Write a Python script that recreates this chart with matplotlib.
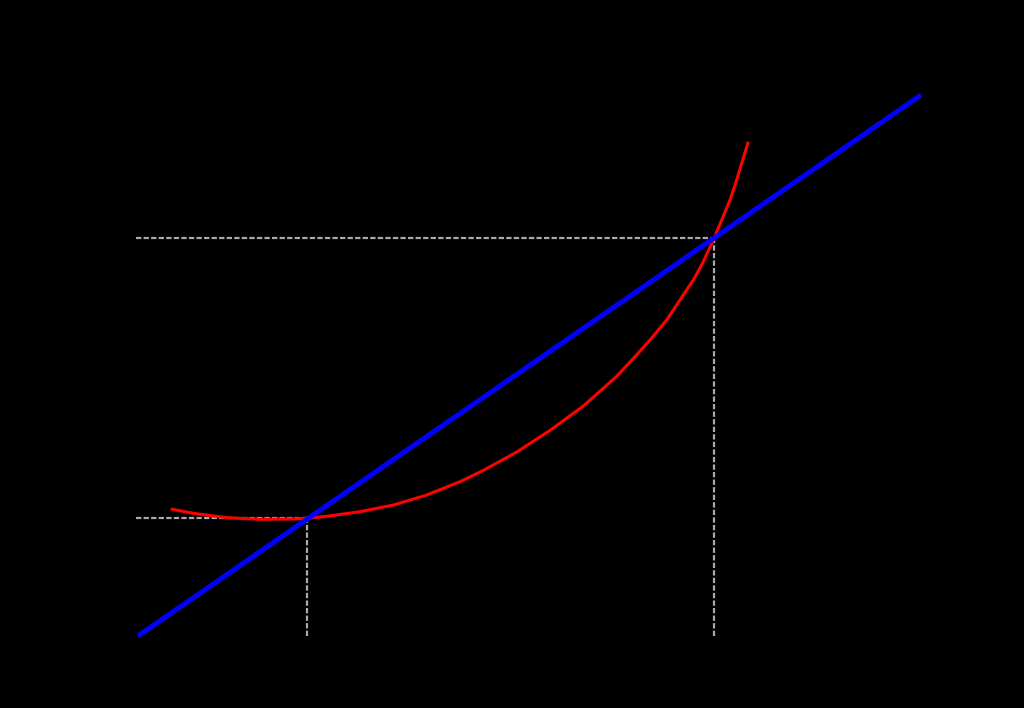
import numpy as np
import matplotlib
matplotlib.use("Agg")
import matplotlib.pyplot as plt

# red curve
curve_x = [0.418, 0.706, 1.133, 1.558, 1.983, 2.155, 2.410, 2.835, 3.261, 3.687,
           4.112, 4.410, 4.837, 5.262, 5.687, 6.114, 6.347, 6.539, 6.752, 6.922,
           7.092, 7.210, 7.347, 7.455, 7.561, 7.646, 7.723, 7.794]
curve_y = [2.348, 2.268, 2.187, 2.157, 2.163, 2.176, 2.212, 2.298, 2.421, 2.606,
           2.852, 3.061, 3.400, 3.800, 4.250, 4.800, 5.163, 5.471, 5.841, 6.211,
           6.580, 6.889, 7.320, 7.689, 8.059, 8.429, 8.799, 9.137]

# blue line y = x
line_x = [0.0, 10.0]
line_y = [0.0, 10.0]

# the two fixed points where the curve meets the line
fixed_x = [2.16, 7.36]
fixed_y = [2.18, 7.36]

bg = "#000000"
fig = plt.figure(figsize=(10.24, 7.08), dpi=100)
fig.set_facecolor(bg)
ax = fig.add_axes([138 / 1024, 72 / 708, 783 / 1024, 541 / 708])
ax.set_facecolor(bg)
ax.set_xlim(0, 10)
ax.set_ylim(0, 10)
for s in ax.spines.values():
    s.set_visible(False)
ax.set_xticks([])
ax.set_yticks([])

for fx, fy in zip(fixed_x, fixed_y):
    ax.plot([-0.03, fx], [fy, fy], color="#aaaaaa", lw=1.6, ls=(0, (2.4, 1.0)), clip_on=False, zorder=1)
    ax.plot([fx, fx], [0, fy], color="#aaaaaa", lw=1.6, ls=(0, (2.4, 1.0)), clip_on=False, zorder=1)

ax.plot(curve_x, curve_y, color="#ff0000", lw=2.2, solid_joinstyle="round", solid_capstyle="butt",
        clip_on=False, zorder=2)
ax.plot(line_x, line_y, color="#0000ff", lw=3.6, solid_capstyle="butt", clip_on=False, zorder=3)

fig.savefig("out.png", dpi=100, facecolor=bg)
